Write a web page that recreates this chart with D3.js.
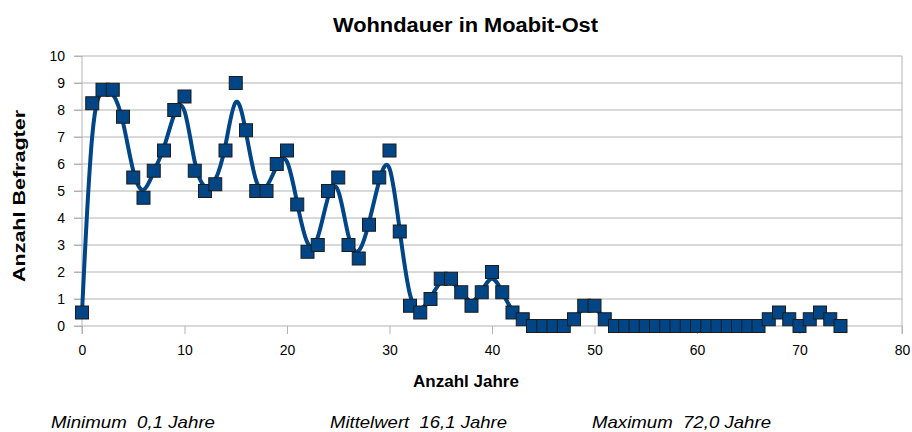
<!DOCTYPE html>
<html>
<head>
<meta charset="utf-8">
<script src="https://cdn.jsdelivr.net/npm/d3@7"></script>
<style>
  body { margin: 0; background: #fff; }
  text { font-family: "Liberation Sans", Arial, sans-serif; fill: #000; }
</style>
</head>
<body>
<div id="chart"></div>
<script>
const width = 912, height = 432;
const margin = { top: 56, right: 10, bottom: 106, left: 82 };

// data: Anzahl Befragter per Wohndauer (Jahre)
const years = d3.range(0, 75);
const counts = [
  0.5, 8.25, 8.75, 8.75, 7.75, 5.5, 4.75, 5.75, 6.5, 8.0,
  8.5, 5.75, 5.0, 5.25, 6.5, 9.0, 7.25, 5.0, 5.0, 6.0,
  6.5, 4.5, 2.75, 3.0, 5.0, 5.5, 3.0, 2.5, 3.75, 5.5,
  6.5, 3.5, 0.75, 0.5, 1.0, 1.75, 1.75, 1.25, 0.75, 1.25,
  2.0, 1.25, 0.5, 0.25, 0, 0, 0, 0, 0.25, 0.75,
  0.75, 0.25, 0, 0, 0, 0, 0, 0, 0, 0,
  0, 0, 0, 0, 0, 0, 0, 0.25, 0.5, 0.25,
  0, 0.25, 0.5, 0.25, 0
];
const xTicks = [0, 10, 20, 30, 40, 50, 60, 70, 80];
const yTicks = [0, 1, 2, 3, 4, 5, 6, 7, 8, 9, 10];
const stats = ["Minimum  0,1 Jahre", "Mittelwert  16,1 Jahre", "Maximum  72,0 Jahre"];

const data = years.map((y, i) => ({ year: y, count: counts[i] }));

const svg = d3.select("#chart").append("svg")
  .attr("width", width)
  .attr("height", height);

const x = d3.scaleLinear().domain([0, 80]).range([margin.left, 902]);
const y = d3.scaleLinear().domain([0, 10]).range([326, margin.top]);

// GRID
svg.append("g")
  .selectAll("line")
  .data(yTicks)
  .join("line")
  .attr("x1", x(0) - 8).attr("x2", x(80))
  .attr("y1", d => y(d)).attr("y2", d => y(d))
  .attr("stroke", "#b3b3b3");

svg.append("line")
  .attr("x1", x(0)).attr("x2", x(0))
  .attr("y1", y(10)).attr("y2", y(0) + 8)
  .attr("stroke", "#b3b3b3");
svg.append("line")
  .attr("x1", x(80)).attr("x2", x(80))
  .attr("y1", y(10)).attr("y2", y(0) + 8)
  .attr("stroke", "#b3b3b3");

// AXES
const xAxis = svg.append("g")
  .attr("transform", `translate(0,${y(0)})`)
  .call(d3.axisBottom(x).tickValues(xTicks).tickSize(8).tickPadding(11));
const yAxis = svg.append("g")
  .attr("transform", `translate(${x(0)},0)`)
  .call(d3.axisLeft(y).tickValues(yTicks).tickSize(8).tickPadding(9));

[xAxis, yAxis].forEach(a => {
  a.select(".domain").remove();
  a.selectAll(".tick line").attr("stroke", "#b3b3b3");
  a.selectAll(".tick text")
    .style("font-family", "'Liberation Sans', Arial, sans-serif")
    .style("font-size", "14px")
    .attr("fill", "#000");
});

// LINE
const line = d3.line()
  .x(d => x(d.year))
  .y(d => y(d.count))
  .curve(d3.curveBasis);

svg.append("path")
  .datum(data)
  .attr("fill", "none")
  .attr("stroke", "#004586")
  .attr("stroke-width", 4)
  .attr("d", line);

// MARKERS
svg.append("g")
  .selectAll("rect")
  .data(data)
  .join("rect")
  .attr("x", d => x(d.year) - 6.5)
  .attr("y", d => y(d.count) - 6.5)
  .attr("width", 13)
  .attr("height", 13)
  .attr("fill", "#004586")
  .attr("stroke", "#1c1c1c")
  .attr("stroke-width", 1);

// TITLES
svg.append("text")
  .attr("x", 333).attr("y", 32)
  .attr("textLength", 265).attr("lengthAdjust", "spacingAndGlyphs")
  .style("font-size", "20px").style("font-weight", "bold")
  .text("Wohndauer in Moabit-Ost");

svg.append("text")
  .attr("x", 466).attr("y", 387)
  .attr("text-anchor", "middle")
  .style("font-size", "17px").style("font-weight", "bold")
  .text("Anzahl Jahre");

svg.append("text")
  .attr("transform", `translate(25,282) rotate(-90)`)
  .attr("textLength", 172).attr("lengthAdjust", "spacingAndGlyphs")
  .style("font-size", "17px").style("font-weight", "bold")
  .text("Anzahl Befragter");

svg.append("g")
  .selectAll("text")
  .data(stats)
  .join("text")
  .attr("x", (d, i) => [51, 330, 592][i])
  .attr("y", 428)
  .attr("textLength", (d, i) => [164, 177, 179][i])
  .attr("lengthAdjust", "spacingAndGlyphs")
  .style("font-size", "16.5px").style("font-style", "italic")
  .attr("xml:space", "preserve")
  .style("white-space", "pre")
  .text(d => d);
</script>
</body>
</html>
